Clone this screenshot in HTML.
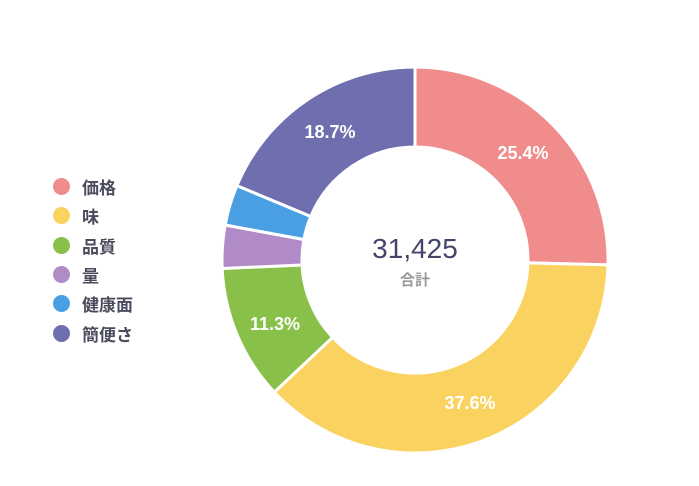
<!DOCTYPE html>
<html><head><meta charset="utf-8"><style>
body{margin:0;background:#fff;width:699px;height:486px;overflow:hidden;font-family:"Liberation Sans","Noto Sans CJK JP",sans-serif}
.lg{position:absolute;left:53px;font-size:17px;font-weight:bold;color:#4b4b5e}
.lg div{height:29.3px;display:flex;align-items:center}
.lg span{display:inline-block;width:17px;height:17px;border-radius:50%;margin-right:12px}
</style></head><body>
<div class="lg" style="top:172px">
<div><span style="background:#F08C8C"></span>価格</div>
<div><span style="background:#FAD25F"></span>味</div>
<div><span style="background:#88C04A"></span>品質</div>
<div><span style="background:#B08BC8"></span>量</div>
<div><span style="background:#4A9FE3"></span>健康面</div>
<div><span style="background:#6F6EAE"></span>簡便さ</div>
</div>
<svg id="s" width="699" height="486" style="position:absolute;left:0;top:0"></svg>
<script>
var cx=415,cy=260,R=193,r=113;
var d=[[25.4,"#F08C8C"],[37.6,"#FAD25F"],[11.3,"#88C04A"],[3.6,"#B08BC8"],[3.4,"#4A9FE3"],[18.7,"#6F6EAE"]];
var a=0,h="";
function p(rad,ang){return (cx+rad*Math.sin(ang)).toFixed(2)+","+(cy-rad*Math.cos(ang)).toFixed(2);}
d.forEach(function(x){var a0=a/100*2*Math.PI;a+=x[0];var a1=a/100*2*Math.PI;var l=(a1-a0)>Math.PI?1:0;
h+='<path d="M'+p(R,a0)+' A'+R+','+R+' 0 '+l+' 1 '+p(R,a1)+' L'+p(r,a1)+' A'+r+','+r+' 0 '+l+' 0 '+p(r,a0)+' Z" fill="'+x[1]+'" stroke="#fff" stroke-width="3"/>';});
h+='<g font-family="Liberation Sans, sans-serif" font-weight="bold" font-size="18" fill="#fff" text-anchor="middle">';
h+='<text x="523" y="159">25.4%</text><text x="470" y="409">37.6%</text><text x="275" y="330">11.3%</text><text x="330" y="138">18.7%</text></g>';
h+='<text x="415" y="258" text-anchor="middle" font-family="Liberation Sans, sans-serif" font-size="28" fill="#45456a">31,425</text>';
h+='<text x="415" y="285" text-anchor="middle" font-family="Liberation Sans, Noto Sans CJK JP, sans-serif" font-weight="bold" font-size="15" fill="#999">合計</text>';
document.getElementById("s").innerHTML=h;
</script>
</body></html>
